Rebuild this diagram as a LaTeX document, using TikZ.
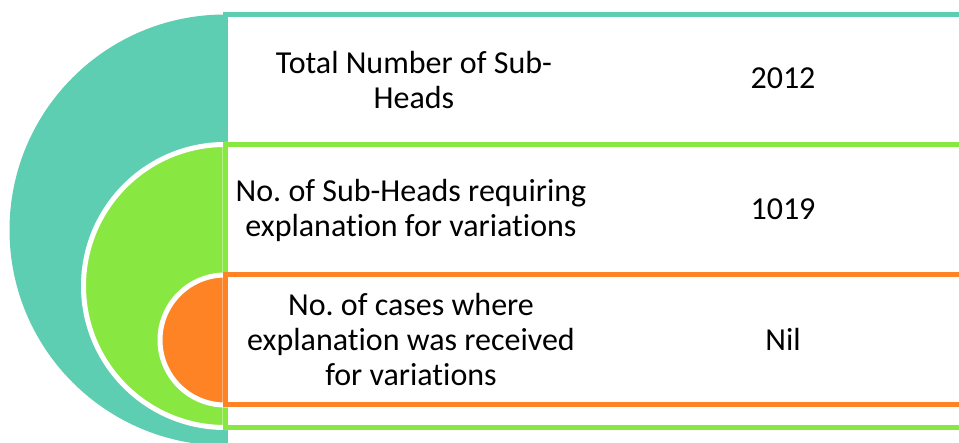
\documentclass[tikz,border=0pt]{standalone}
\usepackage{fontspec}
\setmainfont{Carlito}[Ligatures={NoCommon}]
\frenchspacing
\definecolor{tealc}{RGB}{94,206,178}
\definecolor{greenc}{RGB}{137,231,65}
\definecolor{orangec}{RGB}{254,131,36}
\tikzset{
  rowbox/.style={draw, fill=white, line width=5pt, inner sep=0pt, minimum width=875pt},
  halfdisc/.style={draw=white, line width=5pt},
  lbl/.style={align=center, font=\fontsize{32}{35}\selectfont, inner sep=0pt},
}
\begin{document}
\begin{tikzpicture}[x=1pt,y=-1pt]
\useasboundingbox (0,0) rectangle (959,443);
\clip (0,0) rectangle (959,443);
% teal level
\fill[tealc] (225,14.5) arc[start angle=270, end angle=90, radius=215.5] -- cycle;
\node[rowbox, draw=tealc, minimum height=431pt] (r1) at (662.5,230) {};
% green level
\filldraw[halfdisc, fill=greenc] (225,144.5) arc[start angle=270, end angle=90, radius=141.5] -- cycle;
\node[rowbox, draw=greenc, minimum height=283pt] (r2) at (662.5,286) {};
% orange level
\filldraw[halfdisc, fill=orangec] (225,275) arc[start angle=270, end angle=90, radius=65] -- cycle;
\node[rowbox, draw=orangec, minimum height=130pt] (r3) at (662.5,340) {};
% texts
\node[lbl] (l1) at (414,80) {Total Number of Sub-\\Heads};
\node[lbl] (v1) at (783,78) {2012};
\node[lbl] (l2) at (411,210) {No. of Sub-Heads requiring\\explanation for variations};
\node[lbl] (v2) at (783,209) {1019};
\node[lbl] (l3) at (411,340) {No. of cases where\\explanation was received\\for variations};
\node[lbl] (v3) at (783,339) {Nil};
\end{tikzpicture}
\end{document}
